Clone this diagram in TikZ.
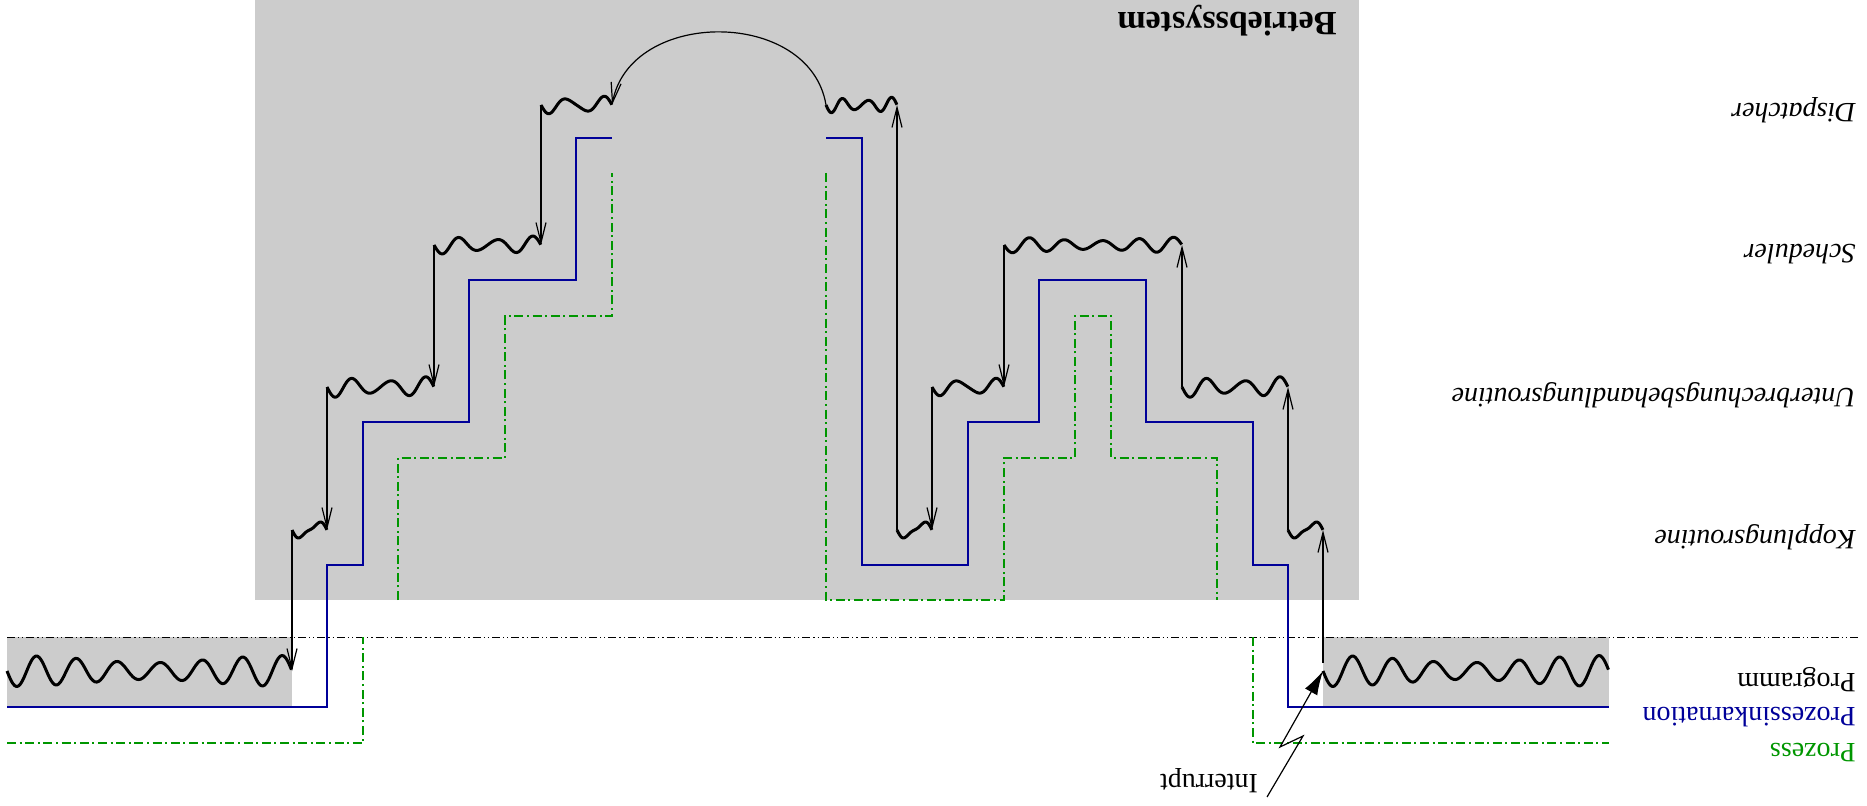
\documentclass[tikz,border=0pt]{standalone}
\usepackage{fontspec}
\setmainfont{Liberation Serif}
\usetikzlibrary{arrows.meta}
\definecolor{osgray}{HTML}{CCCCCC}
\definecolor{pblue}{HTML}{000099}
\definecolor{pgreen}{HTML}{009600}
\newcommand{\wv}[6]{%
  \coordinate (#1-a) at (#2,#4);
  \coordinate (#1-b) at (#3,#4);
  \draw[wave] plot[domain=0:1,samples=150,smooth] ({#2+(#3-#2)*\x},{#4+#6*(sin(#5*360*\x)+0.3*sin((#5+1)*360*\x))});
}
\begin{document}
\begin{tikzpicture}[x=0.5pt,y=-0.5pt,
  wave/.style={line width=1.5pt,black,line join=round},
  bluel/.style={line width=1.25pt,pblue},
  greenl/.style={line width=1.25pt,pgreen,dash pattern=on 4.5pt off 1.8pt on 1pt off 1.8pt},
  basel/.style={line width=0.5pt,black,dash pattern=on 4pt off 1.5pt on 0.6pt off 1.5pt on 0.6pt off 1.5pt},
  arr/.style={line width=0.6pt,-{Straight Barb[length=10pt,width=5pt]}},
  lab/.style={rotate=180,anchor=west,inner sep=0pt,font=\fontsize{14}{16}\selectfont},
]
\useasboundingbox (0,0) rectangle (1867,806);
% gray areas
\fill[osgray] (255,0) rectangle (1359,600);
\fill[osgray] (7,637) rectangle (292,707);
\fill[osgray] (1323,637) rectangle (1609,707);
% base line
\coordinate (bl0) at (7,637);
\coordinate (bl1) at (1858,637);
\draw[basel] (bl0) -- (bl1);
% Prozessinkarnation (blue)
\draw[bluel] (7,707) -- (327,707) -- (327,565) -- (363,565) -- (363,422) -- (469,422) -- (469,280) -- (576,280) -- (576,138) -- (612,138);
\draw[bluel] (826,138) -- (862,138) -- (862,565) -- (968,565) -- (968,422) -- (1039,422) -- (1039,280) -- (1146,280) -- (1146,422) -- (1253,422) -- (1253,565) -- (1288,565) -- (1288,707) -- (1609,707);
% Prozess (green)
\draw[greenl] (7,743) -- (363,743) -- (363,637);
\draw[greenl] (398,600) -- (398,458) -- (505,458) -- (505,316) -- (612,316) -- (612,173);
\draw[greenl] (826,173) -- (826,600) -- (1004,600) -- (1004,458) -- (1075,458) -- (1075,316) -- (1111,316) -- (1111,458) -- (1217,458) -- (1217,600);
\draw[greenl] (1253,637) -- (1253,743) -- (1609,743);
% waves
\wv{PL}{7}{292}{671}{7}{12}
\wv{KL}{292}{327}{530}{1}{7}
\wv{UL}{327}{434}{387}{3}{8}
\wv{SL}{434}{541}{245}{3}{7}
\wv{DL}{541}{612}{105}{2}{7}
\wv{DR}{826}{897}{105}{3}{6}
\wv{KM}{897}{932}{530}{1}{7}
\wv{UM}{932}{1004}{387}{2}{7}
\wv{SR}{1004}{1182}{245}{5}{6}
\wv{UR}{1182}{1288}{387}{3}{8}
\wv{KR}{1288}{1323}{530}{1}{7}
\wv{PR}{1323}{1609}{671}{7}{12}
% control transfers
\draw[arr] (KL-a) -- (PL-b);
\draw[arr] (UL-a) -- (KL-b);
\draw[arr] (SL-a) -- (UL-b);
\draw[arr] (DL-a) -- (SL-b);
\draw[arr] (DR-a) .. controls (810,8) and (630,8) .. (DL-b);
\draw[arr] (KM-a) -- (DR-b);
\draw[arr] (UM-a) -- (KM-b);
\draw[arr] (SR-a) -- (UM-b);
\draw[arr] (UR-a) -- (SR-b);
\draw[arr] (KR-a) -- (UR-b);
\coordinate (PRt) at (1323,663);
\draw[arr] (PRt) -- (KR-b);
% interrupt
\coordinate (I0) at (1267,797);
\coordinate (I1) at (1303,736);
\coordinate (I2) at (1280,747);
\draw[line width=0.6pt,-{Latex[length=12pt,width=7pt]}] (I0) -- (I1) -- (I2) -- (PR-a);
\node[rotate=180,inner sep=0pt,font=\fontsize{14}{16}\selectfont] (intr) at (1209,781) {Interrupt};
% labels
\node[rotate=180,inner sep=0pt,font=\fontsize{17}{19}\selectfont\bfseries] (bs) at (1227,21) {Betriebssystem};
\node[lab] (ldisp) at (1856,110) {\itshape Dispatcher};
\node[lab] (lsched) at (1856,254) {\itshape Scheduler};
\node[lab] (lubr) at (1856,395) {\itshape Unterbrechungsbehandlungsroutine};
\node[lab] (lkop) at (1856,537) {\itshape Kopplungsroutine};
\node[lab] (lprog) at (1856,680) {Programm};
\node[lab,text=pblue] (lpi) at (1856,717) {Prozessinkarnation};
\node[lab,text=pgreen] (lp) at (1856,753) {Prozess};
\end{tikzpicture}
\end{document}
